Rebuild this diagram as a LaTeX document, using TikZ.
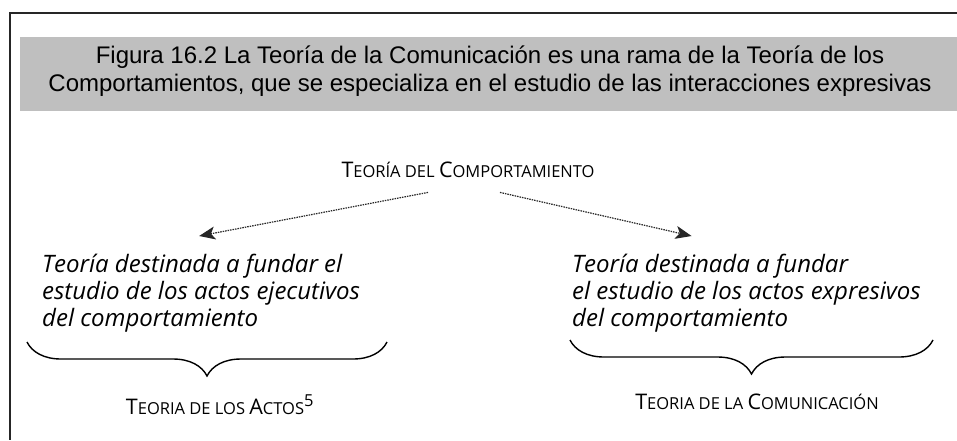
\documentclass[tikz,border=0pt]{standalone}
\usepackage{fontspec}
\setmainfont{Liberation Sans}
\newfontfamily\fuenteop{Open Sans}
\usetikzlibrary{positioning,decorations.pathreplacing,arrows.meta}

% versalitas hechas a mano
\newcommand{\pc}[1]{{\fontsize{16.5}{16.5}\selectfont #1}}

\tikzset{
    marco/.style={line width=2.8pt, black!85},
    banda/.style={fill=black!25, draw=none},
    rotulo/.style={font=\fuenteop\fontsize{21.5}{21.5}\selectfont, inner sep=0pt},
    bloque/.style={font=\fuenteop\itshape\fontsize{24}{27}\selectfont, align=left, inner sep=0pt},
    flecha/.style={dash pattern=on 1.5pt off 1pt, line width=1.2pt, black!85,
        -{Stealth[length=16pt,width=13pt,inset=4pt,sep=0pt]}},
    llave/.style={decoration={brace, amplitude=34pt}, decorate, line width=1.4pt},
}

\begin{document}
\begin{tikzpicture}[x=1pt,y=-1pt]
        \useasboundingbox (0,0) rectangle (957,440);
        \fill[banda] (20,37) rectangle (957,111);
        \draw[marco] (957,13) -- (10,13) -- (10,440);
        \node[font=\fontsize{24}{28}\selectfont, align=center, anchor=north, inner sep=0pt] (titulo) at (490,46)
            {Figura 16.2 La Teoría de la Comunicación es una rama de la Teoría de los\\
            Comportamientos, que se especializa en el estudio de las interacciones expresivas};
        \node[rotulo, anchor=base] (comp) at (468,177) {T\pc{EORÍA DEL }C\pc{OMPORTAMIENTO}};
        \node[bloque, anchor=north west] (ejec) at (42,254)
            {Teoría destinada a fundar el\\estudio de los actos ejecutivos\\del comportamiento};
        \node[bloque, anchor=north west] (expr) at (572,254)
            {Teoría destinada a fundar\\el estudio de los actos expresivos\\del comportamiento};
        %% flechas punteadas desde el rotulo superior
        \draw[flecha] ([xshift=-40pt,yshift=-15pt]comp.south) -- ([xshift=-2pt,yshift=18pt]ejec.north);
        \draw[flecha] ([xshift=32pt,yshift=-15pt]comp.south) -- ([xshift=-55pt,yshift=18pt]expr.north);
        % llaves
        \coordinate (llA) at (387,342);
        \coordinate (llB) at (27,342);
        \coordinate (puntaA) at (207,377);
        \coordinate (llC) at (933,340);
        \coordinate (llD) at (570,340);
        \coordinate (puntaB) at (752,375);
        \draw[llave] (llA) -- (llB);
        \draw[llave] (llC) -- (llD);
        \node[rotulo, below=18pt of puntaA, xshift=13pt] (actos) {T\pc{EORIA DE LOS }A\pc{CTOS}\textsuperscript{\pc{5}}};
        \node[rotulo, below=19pt of puntaB, xshift=5pt] (comu) {T\pc{EORIA DE LA }C\pc{OMUNICACIÓN}};
\end{tikzpicture}
\end{document}
